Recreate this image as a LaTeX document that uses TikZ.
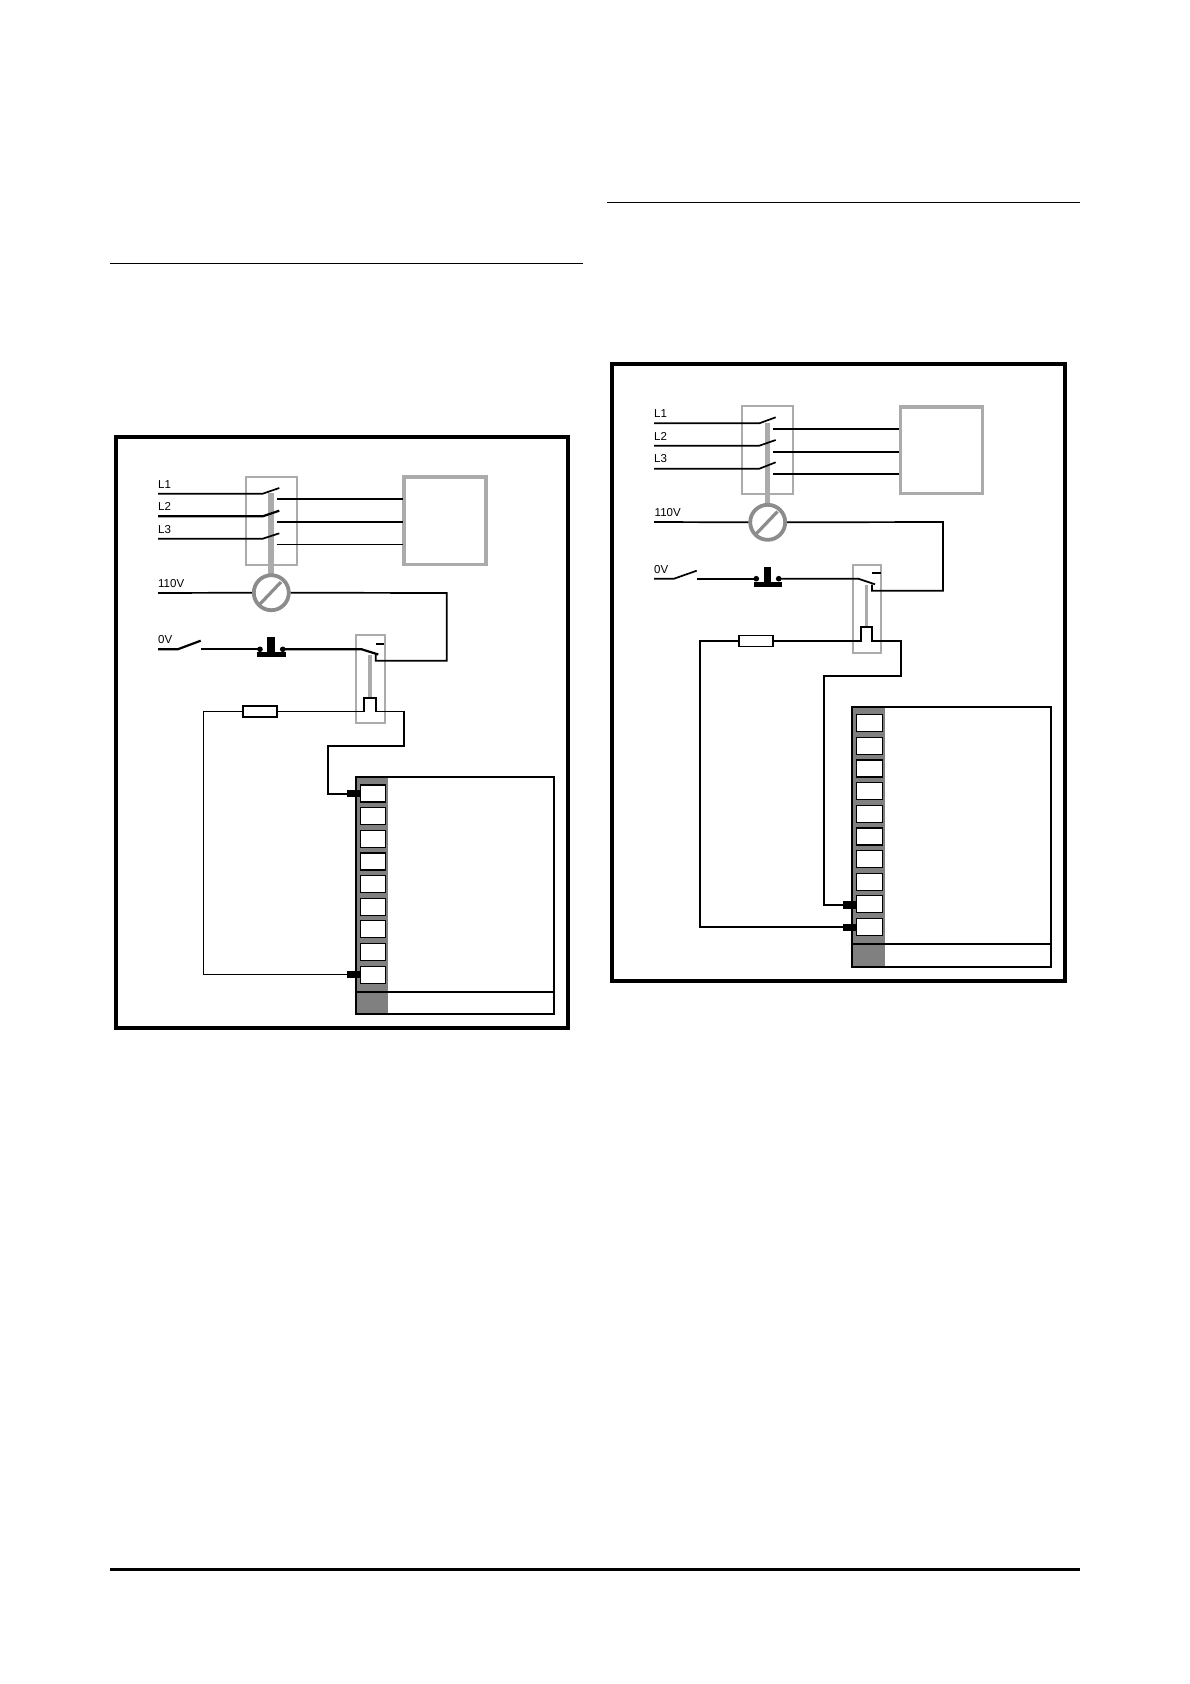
\documentclass[tikz,border=0pt]{standalone}
\usepackage{fontspec}
\setmainfont{Liberation Sans}
\definecolor{lg}{HTML}{ABABAB}
\definecolor{cg}{HTML}{8C8C8C}
\definecolor{dg}{HTML}{808080}
\tikzset{
 x=1pt,y=-1pt,
 frame/.style={draw=black,line width=3.6pt,fill=white,inner sep=0pt},
 rulel/.style={draw=black,line width=1.3pt},
 wire/.style={draw=black,line width=1.7pt,line join=miter},
 thick wire/.style={draw=black,line width=2.2pt,line join=miter},
 thin wire/.style={draw=black,line width=1.3pt,line join=miter},
 greybox/.style={draw=lg,line width=1.9pt},
 load/.style={draw=lg,line width=3.2pt},
 shaft/.style={draw=lg,line width=5.5pt},
 shaftb/.style={draw=lg,line width=3.5pt},
 dial/.style={draw=cg,line width=3.8pt,fill=white},
 solid part/.style={fill=black,draw=none},
 cell/.style={draw=black,line width=1.1pt,fill=white},
 resist/.style={draw=black,line width=1.4pt,fill=white,minimum width=34pt,minimum height=11pt,inner sep=0pt},
 lbl/.style={font=\fontsize{11.5}{12}\selectfont,anchor=base west,inner sep=0pt},
}
\newcommand{\cellcolumn}[4]{% #1 x0, #2 x1, #3 y0, #4 count
 \foreach \i in {1,...,#4}{
  \path[cell] (#1,{#3+(\i-1)*22.65}) rectangle (#2,{#3+(\i-1)*22.65+17});
 }}
\begin{document}
\begin{tikzpicture}
\useasboundingbox[fill=white] (0,0) rectangle (1190,1684);

% page rules
\coordinate (r1a) at (110,263.4); \coordinate (r1b) at (583,263.4);
\coordinate (r2a) at (607,202.4); \coordinate (r2b) at (1080,202.4);
\coordinate (r3a) at (110,1569.5);  \coordinate (r3b) at (1080,1569.5);
\draw[rulel] (r1a) -- (r1b);
\draw[rulel] (r2a) -- (r2b);
\draw[draw=black,line width=3pt] (r3a) -- (r3b);

%================ LEFT PANEL
\path[frame] (116,437) rectangle (568,1028);
\node[lbl] (aL1) at (158,488) {L1};
\node[lbl] (aL2) at (158,510.5) {L2};
\node[lbl] (aL3) at (158,533) {L3};
\node[lbl] (aV110) at (158,587) {110V};
\node[lbl] (aV0) at (158,643.5) {0V};
\path[greybox] (245.7,476.7) rectangle (297,565);
\path[shaft] (271,493) -- (271,576);
\path[load] (404,477) rectangle (486,564.7);
\path[greybox] (355.7,634.7) rectangle (384.7,723);
\path[shaftb] (370,655.3) -- (370,697);
\draw[wire] (158,493.7) -- (262.7,493.7) -- (279.3,488);
\draw[thick wire] (158,516.3) -- (262.7,516.3) -- (279.3,510.7);
\draw[wire] (158,538.7) -- (262.7,538.7) -- (279.3,533.3);
\draw[wire] (276.7,499) -- (402.5,499);
\draw[wire] (276.7,521.7) -- (402.5,521.7);
\draw[thin wire] (276.7,544.3) -- (402.5,544.3);
\node[circle,dial,minimum size=35pt,inner sep=0pt] (adial) at (271.3,592.7) {};
\draw[cg,line width=3.2pt] (260,604) -- (281,582);
\draw[wire] (158,593) -- (adial.west);
\draw[wire] (adial.east) -- (446.7,593) -- (446.7,660.7) -- (375.7,660.7) -- (375.7,654);
\draw[thick wire] (158,649.3) -- (177.7,649.3) -- (200.7,640.7);
\draw[thick wire] (201,649.3) -- (260,649.3);
\path[solid part] (257.3,652) rectangle (285.7,656.7);
\path[solid part] (267.3,637.3) rectangle (275,652);
\fill (260,649.3) circle (2.8);
\fill (282.7,649.3) circle (2.8);
\draw[thick wire] (282.7,649.3) -- (361.7,649.3) -- (378.3,654.5);
\draw[thick wire] (376,643.7) -- (384,643.7);
\node[resist] (ares) at (260,711.5) {};
\draw[thin wire] (ares.west) -- (203.3,711.5) -- (203.3,974.7) -- (347,974.7);
\draw[thin wire] (ares.east) -- (364,711.5);
\draw[wire] (364,711.5) -- (364,697.7) -- (376,697.7) -- (376,711.5);
\draw[wire] (376,711.5) -- (404,711.5) -- (404,745.7) -- (327.7,745.7) -- (327.7,793.7) -- (347,793.7);
\path[fill=dg] (356,777) rectangle (387.7,1014);
\draw[wire] (356,1014) -- (356,777) -- (554,777) -- (554,1014) -- cycle;
\draw[wire] (356,991.7) -- (554,991.7);
\cellcolumn{360.3}{385.7}{785}{9}
\path[solid part] (347,790) rectangle (360,797);
\path[solid part] (347,970.7) rectangle (360,978);

%================ RIGHT PANEL
\path[frame] (612,364) rectangle (1065,980.7);
\node[lbl] (bL1) at (654,417.5) {L1};
\node[lbl] (bL2) at (654,440) {L2};
\node[lbl] (bL3) at (654,462.5) {L3};
\node[lbl] (bV110) at (654.5,516.5) {110V};
\node[lbl] (bV0) at (654,573) {0V};
\path[greybox] (741.7,405.7) rectangle (793.3,493.7);
\path[shaft] (767.7,423) -- (767.7,505);
\path[load] (900.3,407.3) rectangle (982.7,493.7);
\draw[lg,line width=1.5pt] (899,405.5) -- (984,405.5);
\path[greybox] (852.7,564.7) rectangle (881.3,652.7);
\path[shaftb] (866.7,585) -- (866.7,626.7);
\draw[wire] (654,423.3) -- (759.3,423.3) -- (775.7,417.3);
\draw[wire] (654,445.7) -- (759.3,445.7) -- (775.7,440);
\draw[wire] (654,468.7) -- (759.3,468.7) -- (775.7,462.3);
\draw[wire] (773,429) -- (899,429);
\draw[wire] (773,451.7) -- (899,451.7);
\draw[wire] (773,474) -- (899,474);
\node[circle,dial,minimum size=35pt,inner sep=0pt] (bdial) at (767.7,522.3) {};
\draw[cg,line width=3.2pt] (756.5,533.5) -- (777.5,511.5);
\draw[wire] (654,522) -- (bdial.west);
\draw[wire] (bdial.east) -- (943,522) -- (943,590.7) -- (872,590.7) -- (872,584.5);
\draw[wire] (654,578.7) -- (674,578.7) -- (696.7,570.7);
\draw[wire] (697,578.7) -- (756,578.7);
\path[solid part] (753.7,582.3) rectangle (781.7,586.7);
\path[solid part] (764,567) rectangle (771,582.3);
\fill (756.3,578.7) circle (2.8);
\fill (778.7,578.7) circle (2.8);
\draw[wire] (778.7,578.7) -- (858.3,578.7) -- (875,584.3);
\draw[thick wire] (872.3,573.3) -- (881,573.3);
\node[resist] (bres) at (756,641) {};
\draw[wire] (bres.west) -- (700,641) -- (700,927.3) -- (843,927.3);
\draw[wire] (bres.east) -- (861,641) -- (861,626.7) -- (872.3,626.7) -- (872.3,641) -- (900.7,641) -- (900.7,675.7) -- (824,675.7) -- (824,905) -- (843,905);
\path[fill=dg] (852.3,706.7) rectangle (884.7,967);
\draw[wire] (852.3,967) -- (852.3,706.7) -- (1050.7,706.7) -- (1050.7,967) -- cycle;
\draw[wire] (852.3,943.7) -- (1050.7,943.7);
\cellcolumn{856.5}{882.5}{714.7}{10}
\path[solid part] (843,901) rectangle (856.5,909);
\path[solid part] (843,923.5) rectangle (856.5,931);
\end{tikzpicture}
\end{document}
